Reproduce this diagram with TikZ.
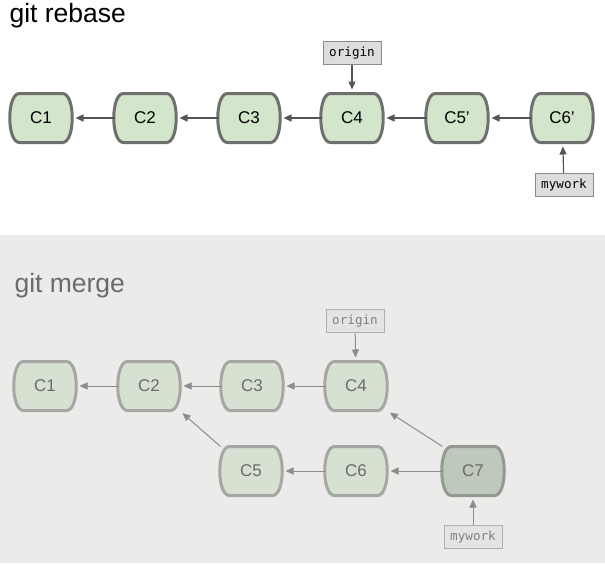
\documentclass[tikz,border=0pt]{standalone}
\usepackage{fontspec}
\setmainfont{Liberation Sans}
\setmonofont{DejaVu Sans Mono}
\usetikzlibrary{arrows.meta,backgrounds}
\definecolor{topfill}{HTML}{D3E6CB}
\definecolor{topline}{HTML}{6F706E}
\definecolor{reffill}{HTML}{DCDEDB}
\definecolor{refline}{HTML}{8A8B89}
\definecolor{panel}{HTML}{EBECEA}
\definecolor{botfill}{HTML}{D7E1D2}
\definecolor{botline}{HTML}{A4A7A3}
\definecolor{bottext}{HTML}{6B6C6A}
\definecolor{headfill}{HTML}{BFC9BB}
\definecolor{headline}{HTML}{959993}
\begin{document}
\begin{tikzpicture}
  [
    x=1pt, y=-1pt,
    font=\fontsize{17}{20}\selectfont,
    cmt/.style={minimum width=61pt, minimum height=49pt, inner sep=0pt, outer sep=0pt},
    mcmt/.style={cmt, text=bottext},
    rbox/.style={draw=topline, fill=topfill, line width=3pt},
    mbox/.style={draw=botline, fill=botfill, line width=3pt},
    hbox/.style={draw=headline, fill=headfill, line width=3pt},
    ref/.style={draw=refline, fill=reffill, line width=1pt,
      minimum width=58pt, minimum height=23pt, inner sep=0pt,
      font=\ttfamily\fontsize{12.6}{14}\selectfont},
    mref/.style={ref, draw=botline!90, fill=reffill!80!white, text=bottext!85!white},
    edg/.style={draw=black!67, line width=1.2pt, shorten >=4pt,
      -{Triangle[length=8pt,width=7pt]}},
    medg/.style={edg, draw=black!45, line width=1pt}
  ]
  \useasboundingbox (0,0) rectangle (605,563);
  % git rebase
  \node [anchor=base west, font=\fontsize{26.5}{30}\selectfont] (RT) at (6,22) {git rebase};
  \node [cmt] (R1) at (41,118)  {C1};
  \node [cmt] (R2) at (145,118) {C2};
  \node [cmt] (R3) at (249,118) {C3};
  \node [cmt] (R4) at (352,118) {C4};
  \node [cmt] (R5) at (457,118) {C5'};
  \node [cmt] (R6) at (562,118) {C6'};
  \node [ref] (RO) at (352,53)  {origin};
  \node [ref] (RW) at (564,185) {mywork};
  \foreach \a/\b in {R2/R1, R3/R2, R4/R3, R5/R4, R6/R5, RO/R4, RW/R6}
    \draw [edg] (\a) -- (\b);
  % git merge
  \node [anchor=base west, text=bottext, font=\fontsize{26.5}{30}\selectfont] (MT) at (11,292) {git merge};
  \node [mcmt] (M1) at (45,386)  {C1};
  \node [mcmt] (M2) at (149,386) {C2};
  \node [mcmt] (M3) at (252,386) {C3};
  \node [mcmt] (M4) at (356,386) {C4};
  \node [mcmt] (M5) at (251,471) {C5};
  \node [mcmt] (M6) at (356,471) {C6};
  \node [mcmt] (M7) at (473,471) {C7};
  \node [mref] (MO) at (355,321) {origin};
  \node [mref] (MW) at (473,537) {mywork};
  \foreach \a/\b in {M2/M1, M3/M2, M4/M3, M6/M5, M7/M6, MO/M4, MW/M7}
    \draw [medg] (\a) -- (\b);
  \draw [medg] (M5.north west) -- (M2.south east);
  \draw [medg] (M7.north west) -- (M4.south east);
  % commit outlines
  \begin{scope}[on background layer]
    \fill [panel] (0,235) rectangle (605,563);
    \foreach \n/\s in {R1/rbox, R2/rbox, R3/rbox, R4/rbox, R5/rbox, R6/rbox,
                       M1/mbox, M2/mbox, M3/mbox, M4/mbox, M5/mbox, M6/mbox, M7/hbox}
      \draw [\s] ([xshift=9pt]\n.north west) -- ([xshift=-9pt]\n.north east)
        .. controls ([xshift=4pt]\n.north east) and ([xshift=4pt]\n.south east) .. ([xshift=-9pt]\n.south east)
        -- ([xshift=9pt]\n.south west)
        .. controls ([xshift=-4pt]\n.south west) and ([xshift=-4pt]\n.north west) .. cycle;
  \end{scope}
\end{tikzpicture}
\end{document}
